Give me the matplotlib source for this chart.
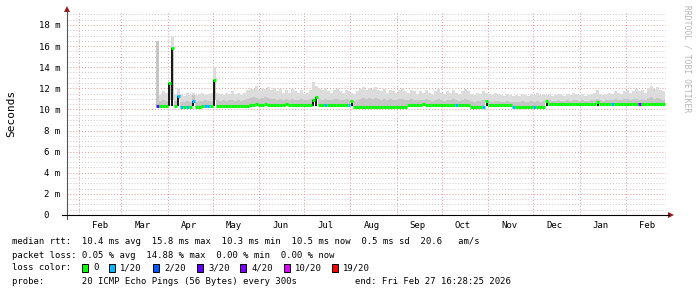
import numpy as np
import pandas as pd
import matplotlib
matplotlib.use('Agg')
import matplotlib.pyplot as plt
import matplotlib.dates as mdates
from matplotlib.lines import Line2D
from matplotlib.patches import Rectangle, Polygon

W, H = 697, 297
MONO = 'DejaVu Sans Mono'

# time window of the graph (last 400 days)
start = pd.Timestamp('2025-01-23 16:28:25')
end = pd.Timestamp('2026-02-27 16:28:25')
first_sample = '2025-03-24'
step_days = 2

# median rtt per 2-day step (ms)
median = [
    10.3, 10.3, 10.3, 10.3, 12.5, 15.8, 10.3, 11.3, 10.2, 10.2,
    10.2, 10.2, 10.8, 10.2, 10.2, 10.3, 10.3, 10.3, 10.3, 12.8,
    10.3, 10.3, 10.3, 10.3, 10.3, 10.3, 10.3, 10.3, 10.3, 10.3,
    10.3, 10.45, 10.45, 10.5, 10.45, 10.45, 10.5, 10.45, 10.45, 10.4,
    10.45, 10.45, 10.45, 10.5, 10.45, 10.45, 10.45, 10.4, 10.45, 10.45,
    10.45, 10.45, 10.9, 11.2, 10.45, 10.45, 10.45, 10.45, 10.4, 10.45,
    10.45, 10.45, 10.45, 10.45, 10.45, 10.8, 10.25, 10.25, 10.25, 10.25,
    10.25, 10.25, 10.2, 10.25, 10.25, 10.25, 10.25, 10.25, 10.25, 10.25,
    10.25, 10.25, 10.25, 10.25, 10.45, 10.45, 10.45, 10.45, 10.45, 10.5,
    10.45, 10.45, 10.45, 10.45, 10.45, 10.45, 10.45, 10.45, 10.45, 10.45,
    10.45, 10.45, 10.45, 10.45, 10.45, 10.2, 10.2, 10.2, 10.2, 10.2,
    10.8, 10.4, 10.4, 10.4, 10.4, 10.4, 10.4, 10.4, 10.4, 10.2,
    10.2, 10.2, 10.2, 10.2, 10.2, 10.2, 10.2, 10.2, 10.2, 10.2,
    10.8, 10.55, 10.55, 10.55, 10.55, 10.5, 10.5, 10.5, 10.5, 10.5,
    10.5, 10.5, 10.5, 10.5, 10.5, 10.5, 10.5, 10.7, 10.5, 10.5,
    10.5, 10.5, 10.5, 10.5, 10.5, 10.5, 10.5, 10.5, 10.5, 10.5,
    10.5, 10.5, 10.5, 10.5, 10.5, 10.5, 10.5, 10.5, 10.5, 10.5,
]

# upper edge of the light smoke (ms)
smoke_hi = [
    16.5, 11.4, 11.7, 11.6, 12.0, 17.0, 11.5, 12.0, 11.5, 11.3,
    11.6, 11.4, 11.6, 11.4, 11.5, 11.6, 11.4, 11.5, 11.6, 14.0,
    11.6, 11.5, 11.4, 11.6, 11.5, 11.7, 11.5, 11.6, 11.4, 11.6,
    11.8, 12.0, 11.9, 12.2, 11.8, 12.0, 11.9, 12.1, 11.8, 12.0,
    11.7, 11.9, 11.6, 11.8, 11.6, 11.9, 11.7, 11.6, 11.8, 11.5,
    11.6, 11.8, 12.6, 12.2, 11.9, 11.8, 12.0, 11.7, 11.6, 11.8,
    11.9, 11.7, 11.6, 11.8, 11.7, 11.6, 11.5, 11.7, 11.9, 12.1,
    11.8, 12.0, 11.9, 12.1, 11.8, 11.7, 11.9, 11.6, 11.8, 11.7,
    11.6, 11.8, 12.0, 11.7, 11.6, 11.8, 11.7, 11.5, 11.7, 11.6,
    11.8, 11.6, 11.5, 11.7, 11.9, 11.6, 11.5, 11.7, 11.6, 11.8,
    11.6, 11.5, 11.7, 11.9, 11.7, 11.5, 11.4, 11.6, 11.5, 11.7,
    11.6, 11.5, 11.4, 11.6, 11.5, 11.4, 11.3, 11.5, 11.4, 11.3,
    11.4, 11.3, 11.5, 11.4, 11.3, 11.5, 11.4, 11.6, 11.4, 11.5,
    11.4, 11.5, 11.3, 11.4, 11.5, 11.4, 11.3, 11.5, 11.4, 11.6,
    11.5, 11.4, 11.5, 11.3, 11.4, 11.5, 11.6, 11.8, 11.5, 11.4,
    11.5, 11.6, 11.5, 11.7, 11.6, 11.5, 11.7, 11.8, 11.6, 11.7,
    11.9, 11.7, 11.8, 11.6, 12.0, 12.2, 11.9, 12.1, 11.8, 11.7,
]

# upper edge of the denser (darker) smoke (ms)
smoke_mid = [
    16.5, 10.8, 10.9, 10.8, 10.9, 10.9, 10.8, 11.0, 10.7, 10.7,
    10.8, 10.7, 11.4, 10.7, 10.8, 10.8, 10.9, 10.8, 10.8, 10.9,
    10.9, 10.8, 10.9, 10.8, 10.9, 10.9, 10.8, 10.9, 10.8, 10.9,
    11.0, 11.1, 11.2, 11.1, 11.0, 11.1, 11.2, 11.1, 11.0, 11.0,
    10.9, 11.0, 10.9, 11.0, 10.9, 11.0, 10.9, 10.9, 11.0, 10.9,
    10.9, 11.0, 11.1, 11.2, 11.0, 10.9, 11.0, 10.9, 10.9, 11.0,
    11.0, 10.9, 10.9, 11.0, 10.9, 10.9, 10.8, 10.9, 11.0, 11.1,
    11.0, 11.1, 11.0, 11.1, 11.0, 10.9, 11.0, 10.9, 11.0, 10.9,
    10.9, 11.0, 11.0, 10.9, 10.9, 11.0, 10.9, 10.9, 10.9, 10.9,
    11.0, 10.9, 10.8, 10.9, 11.0, 10.9, 10.8, 10.9, 10.9, 11.0,
    10.9, 10.8, 10.9, 11.0, 10.9, 10.8, 10.7, 10.8, 10.8, 10.9,
    10.9, 10.8, 10.7, 10.8, 10.8, 10.7, 10.7, 10.8, 10.7, 10.7,
    10.7, 10.7, 10.8, 10.7, 10.7, 10.8, 10.7, 10.8, 10.7, 10.8,
    10.9, 10.9, 10.8, 10.8, 10.9, 10.8, 10.8, 10.9, 10.8, 10.9,
    10.9, 10.8, 10.9, 10.8, 10.8, 10.9, 10.9, 11.0, 10.9, 10.8,
    10.9, 10.9, 10.9, 11.0, 10.9, 10.9, 11.0, 11.0, 10.9, 11.0,
    11.0, 10.9, 11.0, 10.9, 11.1, 11.2, 11.0, 11.1, 11.0, 10.9,
]

# steps with packet loss: step index -> loss class index
loss_steps = {0: 3, 7: 1, 8: 1, 10: 1, 12: 1, 16: 1, 17: 1, 56: 1, 64: 1,
              100: 1, 109: 1, 119: 1, 126: 1, 152: 1, 161: 4}

loss_labels = ['0', '1/20', '2/20', '3/20', '4/20', '10/20', '19/20']
loss_colors = ['#00ff00', '#00b8ff', '#0059ff', '#5e00ff', '#7e00ff', '#dd00ff', '#ff0000']

rtt_min = 10.3
y_ticks = [0, 2, 4, 6, 8, 10, 12, 14, 16, 18]

legend_lines = [
    'median rtt:  10.4 ms avg  15.8 ms max  10.3 ms min  10.5 ms now  0.5 ms sd  20.6   am/s',
    'packet loss: 0.05 % avg  14.88 % max  0.00 % min  0.00 % now',
    'loss color:',
    'probe:       20 ICMP Echo Pings (56 Bytes) every 300s',
]
end_label = 'end: Fri Feb 27 16:28:25 2026'


def fx(px):
    return px / W


def fy(py):
    return 1 - py / H


fig = plt.figure(figsize=(W / 100, H / 100), dpi=100)
fig.patch.set_facecolor('white')
ax = fig.add_axes([fx(67), fy(215), (666 - 67) / W, (215 - 12) / H])

dates = pd.date_range(first_sample, periods=len(median), freq=f'{step_days}D')
x = mdates.date2num(dates)
med = np.array(median)
hi = np.array(smoke_hi)
mid = np.array(smoke_mid)
x_ext = np.append(x, x[-1] + step_days)

# smoke
ax.fill_between(x_ext, np.append(med, med[-1]), np.append(hi, hi[-1]),
                step='post', color='#dcdcdc', lw=0, zorder=2)
ax.fill_between(x_ext, np.append(med, med[-1]), np.append(mid, mid[-1]),
                step='post', color='#c6c6c6', lw=0, zorder=2)

# dark bars where the median jumps up
spike = med > 10.6
ax.bar(x[spike] + step_days / 2, med[spike] - rtt_min, bottom=rtt_min,
       width=1.3, color='#1a1a1a', lw=0, zorder=3)

# median, coloured by loss
cols = [loss_colors[loss_steps.get(i, 0)] for i in range(len(med))]
ax.hlines(med, x, x + step_days, colors=cols, lw=2.2, zorder=4)

ax.set_xlim(mdates.date2num(start), mdates.date2num(end))
ax.set_ylim(0, 203 / 10.556)

ax.set_yticks(y_ticks)
ax.set_yticklabels([f'{v} m' if v else '0  ' for v in y_ticks], family=MONO, fontsize=6.5)
ax.set_yticks(np.arange(0, 19.5, 0.5), minor=True)
ax.xaxis.set_major_locator(mdates.MonthLocator(bymonthday=1))
ax.xaxis.set_minor_locator(mdates.MonthLocator(bymonthday=15))
ax.xaxis.set_major_formatter(plt.NullFormatter())
ax.xaxis.set_minor_formatter(mdates.DateFormatter('%b'))
for lab in ax.get_xticklabels(minor=True):
    lab.set_family(MONO)
    lab.set_fontsize(6.5)
ax.tick_params(which='both', length=0)
ax.tick_params(axis='y', pad=5)
ax.tick_params(axis='x', which='minor', pad=4)

ax.grid(axis='y', which='minor', color='#c8c8c8', ls=(0, (1, 2)), lw=0.7, zorder=1)
ax.grid(axis='y', which='major', color='#e09a9a', ls=(0, (1, 2)), lw=0.7, zorder=1)
ax.grid(axis='x', which='major', color='#e09a9a', ls=(0, (1, 2)), lw=0.7, zorder=1)
ax.set_axisbelow(True)
for s in ax.spines.values():
    s.set_visible(False)

# axis lines with arrow heads
fig.add_artist(Line2D([fx(67), fx(67)], [fy(219), fy(11)], color='#555555', lw=0.8))
fig.add_artist(Line2D([fx(62), fx(669)], [fy(215), fy(215)], color='black', lw=0.8))
fig.add_artist(Polygon([(fx(64), fy(12)), (fx(70), fy(12)), (fx(67), fy(6))],
                       closed=True, color='#9b1b1b', lw=0))
fig.add_artist(Polygon([(fx(668), fy(212)), (fx(668), fy(218)), (fx(674), fy(215))],
                       closed=True, color='#9b1b1b', lw=0))

fig.text(fx(11), fy(113), 'Seconds', rotation=90, ha='center', va='center',
         family=MONO, fontsize=8)
fig.text(fx(687), fy(59), 'RRDTOOL / TOBI OETIKER', rotation=270, ha='center',
         va='center', family=MONO, fontsize=5.8, color='#b4b4b4')

# legend block
line_y = [241, 255, 268, 282]
for txt, yy in zip(legend_lines, line_y):
    fig.text(fx(12), fy(yy), txt, ha='left', va='center', family=MONO, fontsize=6.4)
fig.text(fx(511), fy(282), end_label, ha='right', va='center', family=MONO, fontsize=6.4)

box_x = [82, 109, 153, 197, 240, 284, 332]
for bx, lab, c in zip(box_x, loss_labels, loss_colors):
    fig.add_artist(Rectangle((fx(bx), fy(272)), 6 / W, 8 / H, facecolor=c,
                             edgecolor='black', lw=0.7))
    fig.text(fx(bx + 11), fy(268), lab, ha='left', va='center', family=MONO, fontsize=6.4)

fig.savefig('out.png', dpi=100)
